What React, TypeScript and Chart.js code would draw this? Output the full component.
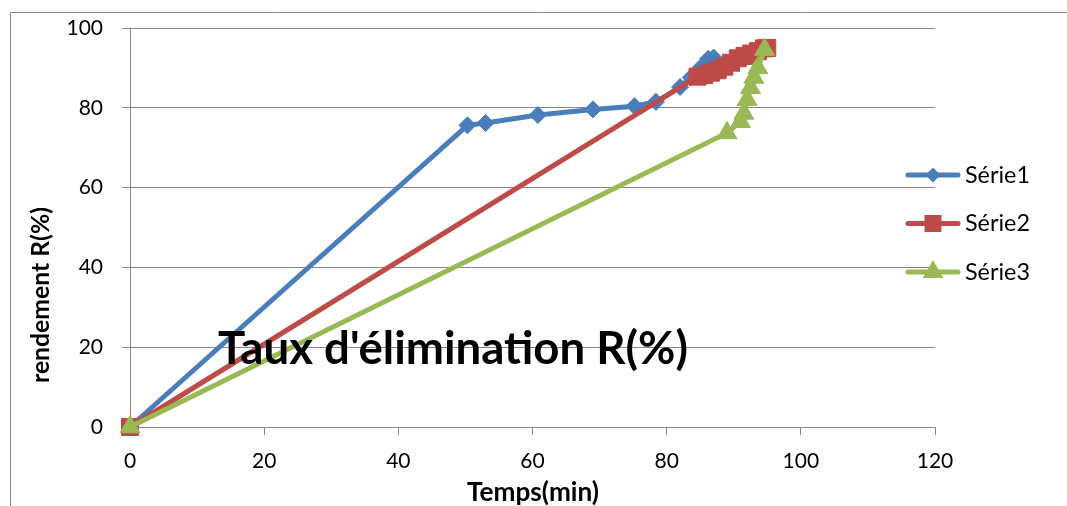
import React, { useEffect, useRef } from 'react';
import { Chart, registerables } from 'chart.js';

Chart.register(...registerables);

const seriesNames = ['Série1', 'Série2', 'Série3'];
const serie1X = [0, 50.3, 53.0, 60.8, 69.0, 75.2, 78.4, 82.0, 83.6, 85.0, 86.2, 87.0];
const serie1Y = [0, 75.6, 76.2, 78.2, 79.6, 80.4, 81.5, 85.2, 87.6, 90.0, 92.3, 92.6];
const serie2X = [0, 84.6, 85.6, 86.6, 87.6, 88.6, 89.6, 90.6, 91.6, 92.6, 93.6, 94.5, 95.0];
const serie2Y = [0, 87.8, 88.2, 88.8, 89.4, 90.3, 91.3, 92.4, 93.0, 93.6, 94.2, 94.9, 95.0];
const serie3X = [0, 89.0, 91.0, 91.5, 92.0, 92.5, 93.0, 93.6, 94.6];
const serie3Y = [0, 73.7, 76.5, 78.6, 82.0, 85.0, 87.6, 90.0, 94.6];

const xMin = 0, xMax = 120, xStep = 20;
const yMin = 0, yMax = 100, yStep = 20;

const chartTitle = "Taux d'élimination R(%)";
const xAxisTitle = 'Temps(min)';
const yAxisTitle = 'rendement R(%)';

const colors = ['#4A7EBB', '#BE4B48', '#98B954'];
const pointStyles = ['rectRot', 'rect', 'triangle'];
const pointRadii = [8.5, 12, 11.5];

const FONT = 'Lato, "Open Sans", sans-serif';
const GRID = '#878787';

function toPoints(xs: number[], ys: number[]) {
  return xs.map((x, i) => ({ x, y: ys[i] }));
}

function fitSize(ctx: CanvasRenderingContext2D, text: string, weight: string, target: number) {
  ctx.font = `${weight} 100px ${FONT}`;
  const w = ctx.measureText(text).width;
  return (100 * target) / w;
}

function drawMarker(ctx: CanvasRenderingContext2D, style: string, x: number, y: number, r: number) {
  ctx.beginPath();
  if (style === 'rectRot') {
    ctx.moveTo(x, y - r);
    ctx.lineTo(x + r, y);
    ctx.lineTo(x, y + r);
    ctx.lineTo(x - r, y);
  } else if (style === 'rect') {
    const s = Math.SQRT1_2 * r;
    ctx.rect(x - s, y - s, 2 * s, 2 * s);
  } else {
    let a = 0;
    ctx.moveTo(x + Math.sin(a) * r, y - Math.cos(a) * r);
    a += (2 * Math.PI) / 3;
    ctx.lineTo(x + Math.sin(a) * r, y - Math.cos(a) * r);
    a += (2 * Math.PI) / 3;
    ctx.lineTo(x + Math.sin(a) * r, y - Math.cos(a) * r);
  }
  ctx.closePath();
  ctx.fill();
}

const decorPlugin = {
  id: 'decor',
  beforeDraw(chart: any) {
    const ctx: CanvasRenderingContext2D = chart.ctx;
    ctx.save();
    ctx.fillStyle = '#ffffff';
    ctx.fillRect(0, 0, chart.width, chart.height);
    ctx.strokeStyle = GRID;
    ctx.lineWidth = 1;
    ctx.beginPath();
    ctx.moveTo(10.5, chart.height);
    ctx.lineTo(10.5, 12.5);
    ctx.lineTo(chart.width, 12.5);
    ctx.stroke();
    ctx.restore();
  },
  afterDraw(chart: any) {
    const ctx: CanvasRenderingContext2D = chart.ctx;
    ctx.save();
    ctx.fillStyle = '#000000';

    // chart title
    let s = fitSize(ctx, chartTitle, 'bold', 470);
    ctx.font = `bold ${s}px ${FONT}`;
    ctx.textAlign = 'left';
    ctx.textBaseline = 'alphabetic';
    ctx.fillText(chartTitle, 218, 364);

    // x axis title
    s = fitSize(ctx, xAxisTitle, 'bold', 132);
    ctx.font = `bold ${s}px ${FONT}`;
    ctx.textAlign = 'center';
    ctx.textBaseline = 'middle';
    ctx.fillText(xAxisTitle, 533, 493);

    // y axis title
    s = fitSize(ctx, yAxisTitle, 'bold', 176);
    ctx.font = `bold ${s}px ${FONT}`;
    ctx.save();
    ctx.translate(41, 295);
    ctx.rotate(-Math.PI / 2);
    ctx.textAlign = 'center';
    ctx.textBaseline = 'middle';
    ctx.fillText(yAxisTitle, 0, 0);
    ctx.restore();

    // legend
    const ls = fitSize(ctx, seriesNames[0], 'normal', 65);
    const legendR = [7.5, 12, 12];
    chart.data.datasets.forEach((ds: any, i: number) => {
      const y = 175 + i * 48.5;
      ctx.strokeStyle = ds.borderColor;
      ctx.lineWidth = 5;
      ctx.lineCap = 'round';
      ctx.beginPath();
      ctx.moveTo(908, y);
      ctx.lineTo(958, y);
      ctx.stroke();
      ctx.fillStyle = ds.borderColor;
      drawMarker(ctx, ds.pointStyle, 933, y, legendR[i]);
      ctx.fillStyle = '#000000';
      ctx.font = `normal ${ls}px ${FONT}`;
      ctx.textAlign = 'left';
      ctx.textBaseline = 'middle';
      ctx.fillText(ds.label, 965, y);
    });
    ctx.restore();
  },
};

export default function App() {
  const ref = useRef<HTMLCanvasElement | null>(null);

  useEffect(() => {
    if (!ref.current) return;
    const xs = [serie1X, serie2X, serie3X];
    const ys = [serie1Y, serie2Y, serie3Y];
    const datasets = seriesNames.map((name, i) => ({
      label: name,
      data: toPoints(xs[i], ys[i]),
      borderColor: colors[i],
      backgroundColor: colors[i],
      borderWidth: 5,
      pointStyle: pointStyles[i],
      pointRadius: pointRadii[i],
      pointBackgroundColor: colors[i],
      pointBorderColor: colors[i],
      pointBorderWidth: 1,
      showLine: true,
      tension: 0,
      clip: false,
      order: 3 - i,
    }));
    const chart = new Chart(ref.current, {
      type: 'scatter',
      data: { datasets },
      plugins: [decorPlugin],
      options: {
        responsive: false,
        animation: false,
        layout: { padding: { left: 0, top: 28, right: 132, bottom: 0 } },
        plugins: {
          legend: { display: false },
          tooltip: { enabled: false },
          title: { display: false },
        },
        scales: {
          x: {
            type: 'linear',
            min: xMin,
            max: xMax,
            ticks: { stepSize: xStep, color: '#000', font: { family: FONT, size: 21 }, padding: 14 },
            grid: { drawOnChartArea: false, drawTicks: true, tickLength: 8, color: GRID, lineWidth: 1 },
            border: { color: GRID, width: 1 },
            afterFit: (scale: any) => {
              scale.height = 79;
              scale.paddingLeft = 0;
              scale.paddingRight = 0;
            },
          },
          y: {
            type: 'linear',
            min: yMin,
            max: yMax,
            ticks: { stepSize: yStep, color: '#000', font: { family: FONT, size: 21 }, padding: 19 },
            grid: { drawOnChartArea: true, drawTicks: true, tickLength: 8, color: GRID, lineWidth: 1 },
            border: { color: GRID, width: 1 },
            afterFit: (scale: any) => {
              scale.width = 130;
              scale.paddingTop = 0;
              scale.paddingBottom = 0;
            },
          },
        },
      } as any,
    });
    return () => chart.destroy();
  }, []);

  return (
    <div style={{ position: 'absolute', left: 0, top: 0, width: 1067, height: 506 }}>
      <canvas ref={ref} width={1067} height={506} style={{ display: 'block' }} />
    </div>
  );
}
